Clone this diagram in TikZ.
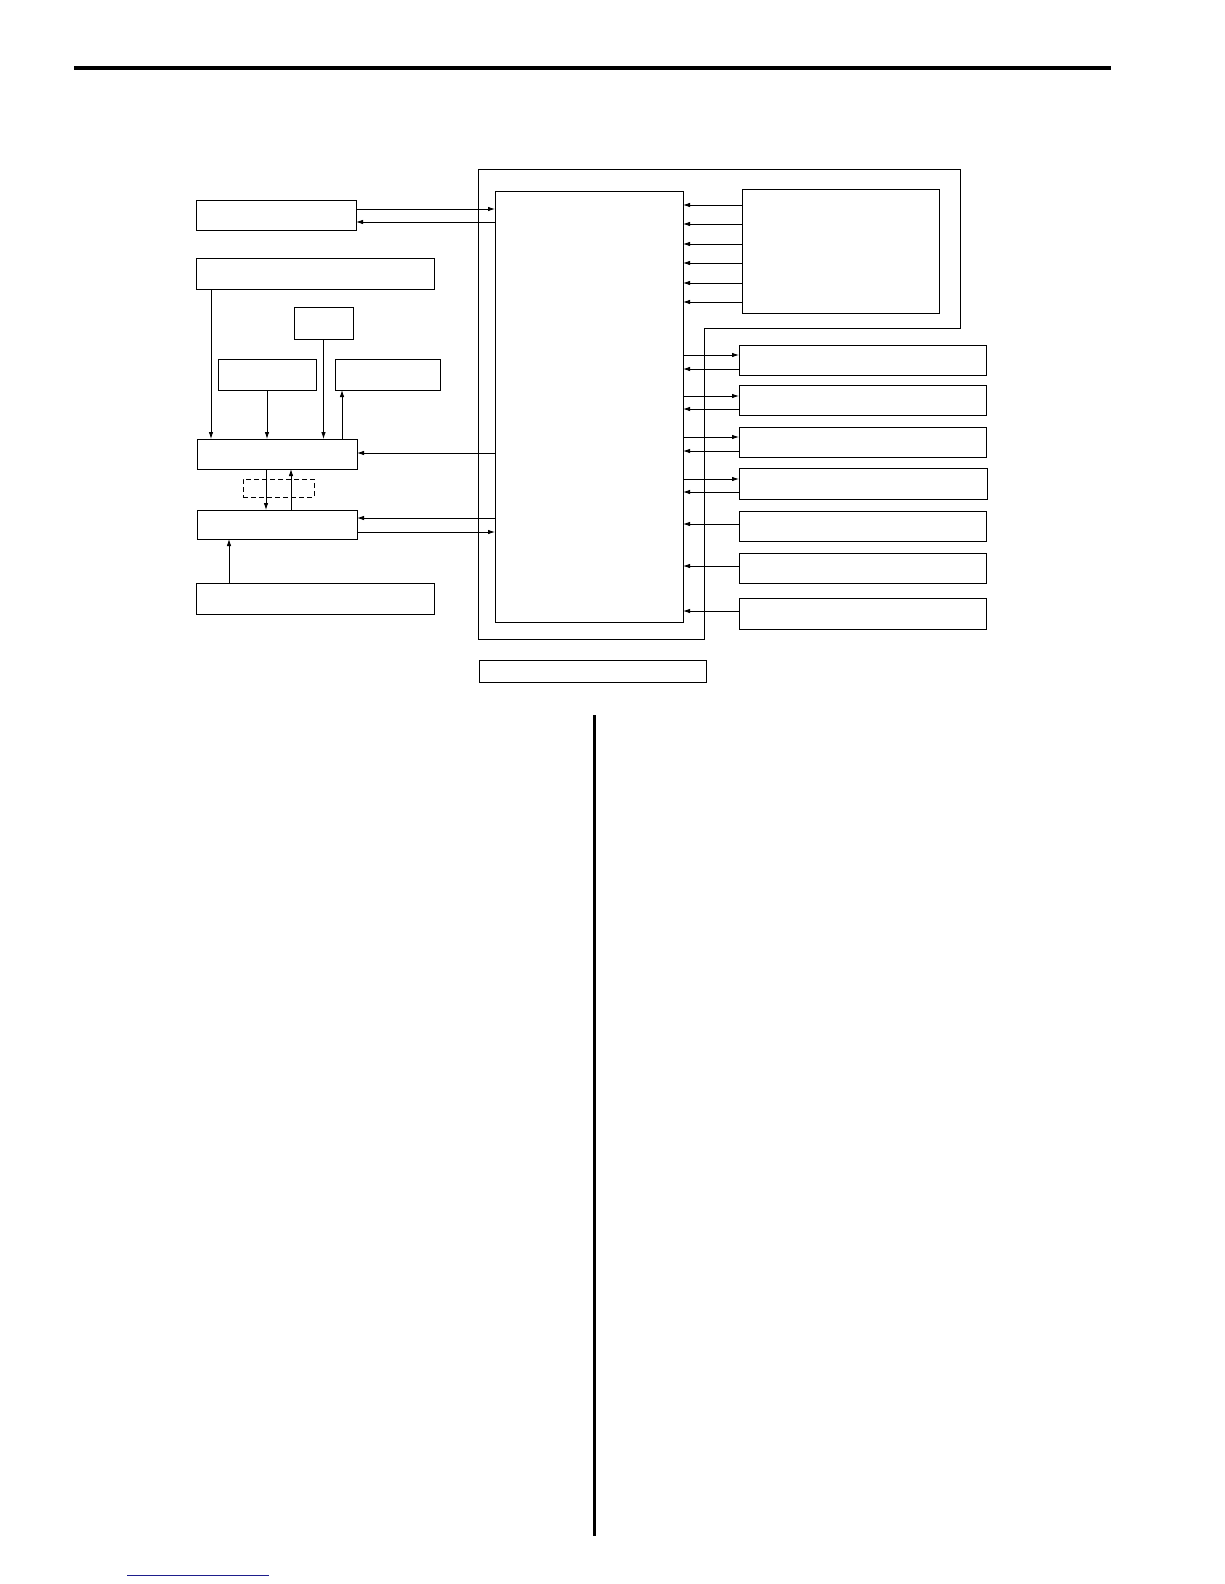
\documentclass[tikz,border=0pt]{standalone}
\usepackage{tikz}
\usetikzlibrary{arrows.meta}
\definecolor{linkblue}{RGB}{30,30,140}

\begin{document}
\begin{tikzpicture}[x=1pt,y=-1pt,line width=0.85pt,
    >={Latex[length=7pt,width=4.5pt]},
    every node/.style={draw,rectangle,inner sep=0pt,outer sep=0pt,anchor=north west}]
  \useasboundingbox (0,0) rectangle (1224,1584);
  % page furniture
  \draw[line width=4pt] (74,68) -- (1111,68);
  \draw[line width=2.7pt] (594.5,715) -- (594.5,1536);
  \draw[linkblue] (127,1575) -- (269,1575);
  % left column
  \node[minimum width=160pt,minimum height=30pt] (a) at (196,200) {};
  \node[minimum width=238pt,minimum height=31pt] (b) at (196,258) {};
  \node[minimum width=59pt,minimum height=32pt] (c) at (294,307) {};
  \node[minimum width=98pt,minimum height=31pt] (d) at (218,359) {};
  \node[minimum width=105pt,minimum height=31pt] (f) at (335,359) {};
  \node[minimum width=160pt,minimum height=30pt] (e) at (197,439) {};
  \node[dash pattern=on 5pt off 3pt,minimum width=71pt,minimum height=18pt] (link) at (243,479) {};
  \node[minimum width=160pt,minimum height=29pt] (g) at (197,510) {};
  \node[minimum width=238pt,minimum height=31pt] (h) at (196,583) {};
  % controller
  \draw (478,169) -- (960,169) -- (960,328) -- (704,328) -- (704,639) -- (478,639) -- cycle;
  \node[minimum width=188pt,minimum height=431pt] (cpu) at (495,191) {};
  \node[minimum width=197pt,minimum height=124pt] (i) at (742,189) {};
  \node[minimum width=227pt,minimum height=22pt] (base) at (479,660) {};
  % right column
  \node[minimum width=247pt,minimum height=30pt] (r1) at (739,345) {};
  \node[minimum width=247pt,minimum height=30pt] (r2) at (739,385) {};
  \node[minimum width=247pt,minimum height=30pt] (r3) at (739,427) {};
  \node[minimum width=248pt,minimum height=31pt] (r4) at (739,468) {};
  \node[minimum width=247pt,minimum height=30pt] (r5) at (739,511) {};
  \node[minimum width=247pt,minimum height=30pt] (r6) at (739,553) {};
  \node[minimum width=247pt,minimum height=31pt] (r7) at (739,598) {};

  % left side connections
  \draw[->] (a.east |- 0,209) -- (cpu.west |- 0,209);
  \draw[->] (cpu.west |- 0,222) -- (a.east |- 0,222);
  \draw[->] (b.south -| 211,0) -- (e.north -| 211,0);
  \draw[->] (c.south) -- (e.north -| c.south);
  \draw[->] (d.south) -- (e.north -| d.south);
  \draw[->] (e.north -| 342,0) -- (f.south -| 342,0);
  \draw[->] (cpu.west |- 0,453) -- (e.east |- 0,453);
  \draw[->] (e.south -| 266,0) -- (g.north -| 266,0);
  \draw[->] (g.north -| 291,0) -- (e.south -| 291,0);
  \draw[->] (cpu.west |- 0,518) -- (g.east |- 0,518);
  \draw[->] (g.east |- 0,532) -- (cpu.west |- 0,532);
  \draw[->] (h.north -| 229,0) -- (g.south -| 229,0);

  % right side connections
  \foreach \y in {205,224,244,263,283,302}
    \draw[->] (i.west |- 0,\y) -- (cpu.east |- 0,\y);
  \foreach \n/\yo/\yi in {r1/355/369,r2/396/409,r3/437/451,r4/479/492}{
    \draw[->] (cpu.east |- 0,\yo) -- (\n.west |- 0,\yo);
    \draw[->] (\n.west |- 0,\yi) -- (cpu.east |- 0,\yi);
  }
  \foreach \n/\yi in {r5/524,r6/566,r7/611}
    \draw[->] (\n.west |- 0,\yi) -- (cpu.east |- 0,\yi);
\end{tikzpicture}
\end{document}
